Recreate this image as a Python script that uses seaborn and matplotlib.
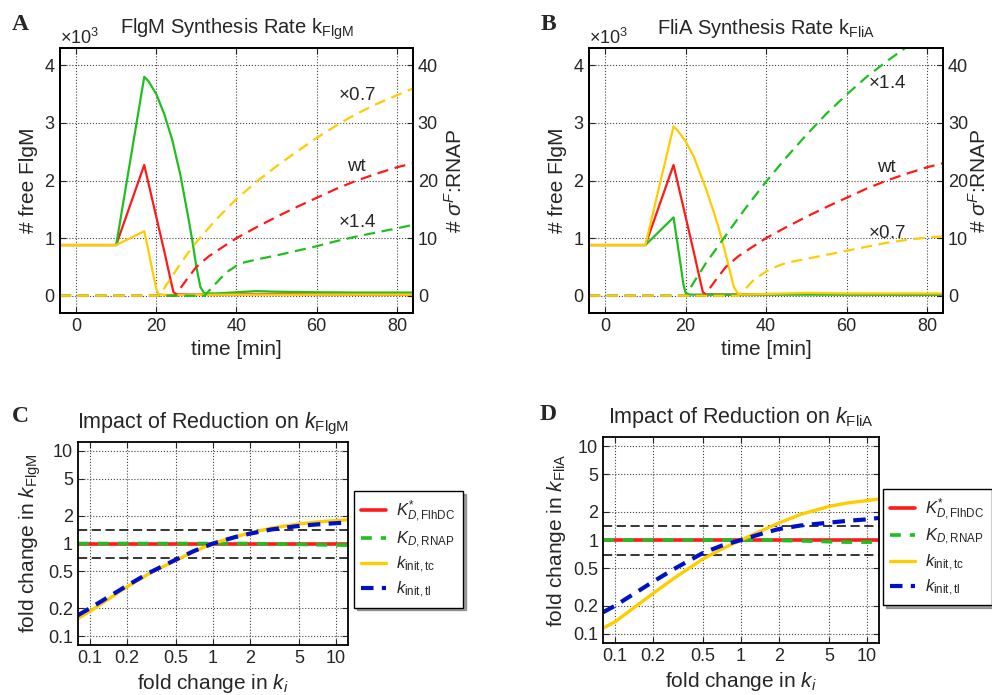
import numpy as np
import pandas as pd
import matplotlib
matplotlib.use("Agg")
import matplotlib.pyplot as plt
import seaborn as sns

sns.set_style("ticks")
plt.rcParams['font.family'] = ['Liberation Sans', 'DejaVu Sans']
plt.rcParams['mathtext.fontset'] = 'custom'
plt.rcParams['mathtext.rm'] = 'Liberation Sans'
plt.rcParams['mathtext.it'] = 'Liberation Sans:italic'
plt.rcParams['mathtext.bf'] = 'Liberation Sans:bold'

RED = '#ff1a1a'
GREEN = '#1fbf1f'
YELLOW = '#ffcc00'
BLUE = '#0010c8'

# ---- panel A / B : free FlgM (solid, left axis) ----
t_red_solid = [-4, 10, 17, 20, 22, 23.5, 24.3, 25, 30, 40, 50, 60, 70, 84]
flgm_red = [880, 880, 2270, 1370, 770, 300, 60, 25, 20, 25, 30, 25, 22, 20]

t_green_a = [-4, 10, 17, 18, 20, 22, 24, 26, 28, 29, 30, 31, 32, 35, 40, 45, 50, 60, 70, 84]
flgm_green_a = [880, 880, 3800, 3730, 3500, 3150, 2700, 2100, 1350, 950, 500, 150, 40, 40, 60, 80, 70, 60, 55, 55]

t_yellow_a = [-4, 10, 17, 18, 19, 20, 20.5, 22, 30, 40, 50, 60, 84]
flgm_yellow_a = [880, 880, 1120, 800, 450, 120, 30, 15, 15, 20, 20, 20, 20]

t_green_b = [-4, 10, 17, 18, 19, 19.5, 20, 21, 30, 84]
flgm_green_b = [880, 880, 1360, 900, 420, 180, 50, 20, 20, 20]

t_yellow_b = [-4, 10, 17, 18, 20, 22, 25, 27, 28, 29, 30, 31, 32, 33, 34, 40, 50, 60, 84]
flgm_yellow_b = [880, 880, 2940, 2870, 2680, 2420, 1870, 1450, 1230, 980, 710, 430, 150, 40, 20, 30, 50, 40, 40]

# ---- panel A / B : sigmaF:RNAP (dashed, right axis) ----
t_red_dash = [-4, 24.5, 26, 28, 30, 33, 36, 40, 45, 50, 55, 60, 65, 70, 75, 80, 84]
rnap_red = [0, 0, 1.3, 3.2, 5, 6.8, 8.2, 10, 11.9, 13.7, 15.4, 17, 18.6, 20, 21.2, 22.3, 23]

t_yellow_dash_a = [-4, 20.5, 22, 25, 28, 30, 35, 40, 45, 50, 55, 60, 65, 70, 75, 80, 84]
rnap_yellow_a = [0, 0, 1.3, 4.5, 7.5, 9.3, 13.3, 16.8, 19.8, 22.5, 25, 27.4, 29.6, 31.6, 33.3, 34.8, 36]

t_green_dash_a = [-4, 32, 34, 36, 38, 40, 42, 45, 50, 55, 60, 65, 70, 75, 80, 84]
rnap_green_a = [0, 0, 1.5, 3, 4.3, 5.2, 5.8, 6.3, 7, 7.8, 8.6, 9.5, 10.3, 11, 11.7, 12.3]

t_green_dash_b = [-4, 20, 22, 25, 30, 35, 40, 45, 50, 55, 60, 65, 70, 75, 80, 84]
rnap_green_b = [0, 0, 2.3, 5.6, 10.5, 15.3, 19.8, 24, 27.9, 31.6, 34.9, 38, 40.7, 43.2, 45.5, 47.3]

t_yellow_dash_b = [-4, 33, 35, 37, 40, 43, 45, 50, 55, 60, 65, 70, 75, 80, 84]
rnap_yellow_b = [0, 0, 1.3, 2.8, 4.2, 5.2, 5.7, 6.4, 7.1, 7.8, 8.5, 9.2, 9.7, 10.1, 10.3]

# ---- panel C / D : fold changes ----
fold_x = [0.08, 0.1, 0.2, 0.3, 0.5, 0.7, 1, 1.5, 2, 3, 5, 7, 10, 12.5]
c_flhdc = [1.0] * 14
c_rnap = [1, 1, 1, 1, 1, 1, 1, 1, 1, 0.99, 0.98, 0.97, 0.965, 0.96]
c_tc = [0.155, 0.185, 0.34, 0.47, 0.66, 0.82, 1, 1.18, 1.3, 1.47, 1.63, 1.71, 1.77, 1.8]
c_tl = [0.168, 0.2, 0.35, 0.48, 0.67, 0.83, 1, 1.17, 1.28, 1.42, 1.55, 1.61, 1.66, 1.69]
d_flhdc = [1.0] * 14
d_rnap = [1, 1, 1, 1, 1, 1, 1, 1, 0.99, 0.98, 0.96, 0.95, 0.95, 0.95]
d_tc = [0.115, 0.135, 0.27, 0.4, 0.63, 0.8, 1, 1.28, 1.52, 1.88, 2.28, 2.48, 2.63, 2.73]
d_tl = [0.17, 0.2, 0.36, 0.5, 0.73, 0.87, 1, 1.18, 1.31, 1.43, 1.53, 1.6, 1.66, 1.72]
band = [1.4, 0.7]
log_ticks = [0.1, 0.2, 0.5, 1, 2, 5, 10]
log_labels = ['0.1', '0.2', '0.5', '1', '2', '5', '10']

TICK = 13
LAB = 15

fig = plt.figure(figsize=(9.92, 6.95), dpi=100)


def time_panel(rect, title, solids, dashes, notes, rpad):
    ax = fig.add_axes(rect)
    for t, v, c in solids:
        sns.lineplot(x=t, y=v, color=c, lw=1.6, ax=ax, sort=False)
    ax.set_xlim(-4, 84)
    ax.set_ylim(-300, 4300)
    ax.set_xticks([0, 20, 40, 60, 80])
    ax.set_yticks([0, 1000, 2000, 3000, 4000])
    ax.ticklabel_format(axis='y', style='sci', scilimits=(3, 3), useMathText=True)
    ax.yaxis.get_offset_text().set_fontsize(TICK)
    ax.grid(True, ls=':', color='#444444', lw=0.8)
    ax.tick_params(direction='in', top=True, labelsize=TICK, length=4)
    ax.set_xlabel('time [min]', fontsize=LAB)
    ax.set_ylabel('# free FlgM', fontsize=LAB)
    ax.set_title(title, fontsize=14.5, pad=10)
    ax2 = ax.twinx()
    for t, v, c in dashes:
        sns.lineplot(x=t, y=v, color=c, lw=1.6, ls=(0, (5, 3)), ax=ax2, sort=False)
    ax2.set_ylim(-3, 43)
    ax2.set_yticks([0, 10, 20, 30, 40])
    ax2.tick_params(direction='in', labelsize=TICK, length=4)
    ax2.set_ylabel(r'# $\sigma^{F}$:RNAP', fontsize=LAB, labelpad=rpad)
    for s in list(ax.spines.values()) + list(ax2.spines.values()):
        s.set_linewidth(1.3)
        s.set_color('black')
    for x, y, txt in notes:
        ax2.text(x, y, txt, fontsize=13.5, ha='center', va='center')
    return ax


time_panel([0.0605, 0.5496, 0.3558, 0.3813], r'FlgM Synthesis Rate k$_{\mathrm{FlgM}}$',
           [(t_red_solid, flgm_red, RED), (t_green_a, flgm_green_a, GREEN), (t_yellow_a, flgm_yellow_a, YELLOW)],
           [(t_red_dash, rnap_red, RED), (t_green_dash_a, rnap_green_a, GREEN), (t_yellow_dash_a, rnap_yellow_a, YELLOW)],
           [(70, 34.8, r'$\times$0.7'), (70, 22.4, 'wt'), (70, 12.7, r'$\times$1.4')], 4)

time_panel([0.5938, 0.5496, 0.3569, 0.3813], r'FliA Synthesis Rate k$_{\mathrm{FliA}}$',
           [(t_red_solid, flgm_red, RED), (t_green_b, flgm_green_b, GREEN), (t_yellow_b, flgm_yellow_b, YELLOW)],
           [(t_red_dash, rnap_red, RED), (t_green_dash_b, rnap_green_b, GREEN), (t_yellow_dash_b, rnap_yellow_b, YELLOW)],
           [(70, 36.9, r'$\times$1.4'), (70, 22.3, 'wt'), (70, 10.8, r'$\times$0.7')], 0)


def fold_panel(rect, name, flhdc, rnap, tc, tl, legend_anchor):
    ax = fig.add_axes(rect)
    sns.lineplot(x=fold_x, y=flhdc, color=RED, lw=2.6, ax=ax, label=r'$K^{*}_{D,\mathrm{FlhDC}}$')
    sns.lineplot(x=fold_x, y=rnap, color=GREEN, lw=2.6, ls=(0, (3, 2.5)), ax=ax, label=r'$K_{D,\mathrm{RNAP}}$')
    sns.lineplot(x=fold_x, y=tc, color=YELLOW, lw=2.4, ax=ax, label=r'$k_{\mathrm{init,tc}}$')
    sns.lineplot(x=fold_x, y=tl, color=BLUE, lw=3, ls=(0, (3, 2)), ax=ax, label=r'$k_{\mathrm{init,tl}}$')
    for b in band:
        ax.axhline(b, color='black', lw=1.1, ls=(0, (6, 3)), zorder=1)
    ax.set_xscale('log')
    ax.set_yscale('log')
    ax.set_xlim(0.08, 12.5)
    ax.set_ylim(0.08, 12.5)
    ax.set_xticks(log_ticks)
    ax.set_xticklabels(log_labels)
    ax.set_yticks(log_ticks)
    ax.set_yticklabels(log_labels)
    ax.minorticks_off()
    ax.grid(True, ls=':', color='#444444', lw=0.8)
    ax.tick_params(direction='in', top=True, right=True, labelsize=TICK, length=4)
    for s in ax.spines.values():
        s.set_linewidth(1.3)
        s.set_color('black')
    ax.set_xlabel(r'fold change in $k_{i}$', fontsize=LAB)
    ax.set_ylabel(r'fold change in $k_{\mathrm{' + name + '}}$', fontsize=LAB)
    ax.set_title(r'Impact of Reduction on $k_{\mathrm{' + name + '}}$', fontsize=15.5, pad=10)
    leg = ax.legend(loc='upper left', bbox_to_anchor=legend_anchor, fontsize=12, frameon=True,
                    fancybox=False, shadow=True, edgecolor='black', handlelength=1.5,
                    handletextpad=0.6, labelspacing=0.3, borderpad=0.45, borderaxespad=0)
    leg.get_frame().set_linewidth(1.0)
    return ax


fold_panel([0.0786, 0.0719, 0.2722, 0.2921], 'FlgM', c_flhdc, c_rnap, c_tc, c_tl, (1.022, 0.76))
fold_panel([0.6079, 0.0748, 0.2782, 0.2964], 'FliA', d_flhdc, d_rnap, d_tc, d_tl, (1.014, 0.75))

for x, y, s in [(20, 25, 'A'), (548, 25, 'B'), (20, 417, 'C'), (548, 415, 'D')]:
    fig.text(x / 992, 1 - y / 695, s, fontsize=17, fontweight='bold',
             family='Liberation Serif', ha='center', va='center')

fig.savefig('out.png', dpi=100)
